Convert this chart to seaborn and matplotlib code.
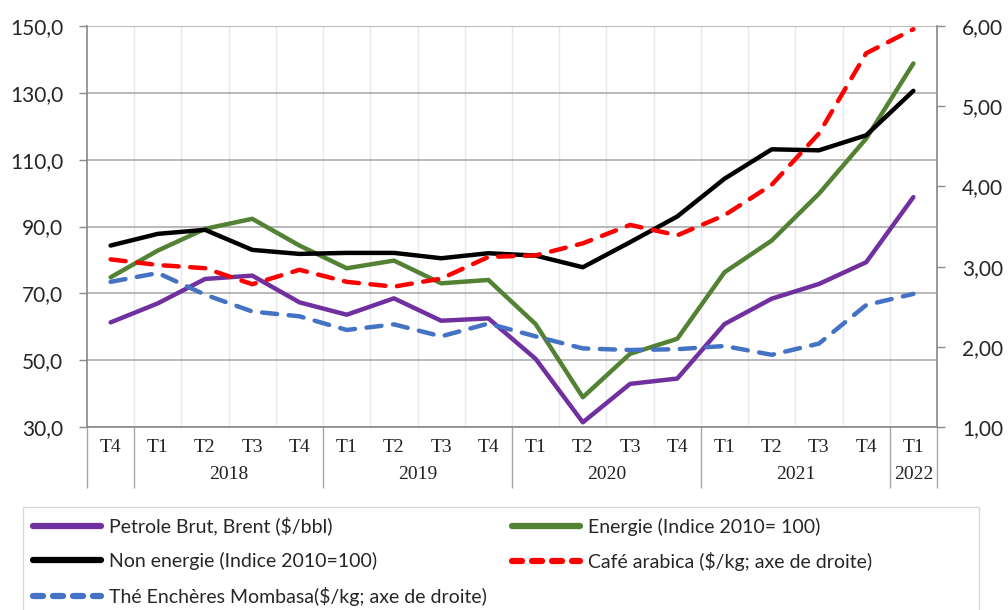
import numpy as np
import pandas as pd
import matplotlib
matplotlib.use("Agg")
import matplotlib.pyplot as plt
import matplotlib.transforms as mtransforms
from matplotlib.lines import Line2D
from matplotlib.patches import Rectangle
import seaborn as sns

quarters = ["T4", "T1", "T2", "T3", "T4", "T1", "T2", "T3", "T4",
            "T1", "T2", "T3", "T4", "T1", "T2", "T3", "T4", "T1"]
years = ["2018", "2019", "2020", "2021", "2022"]
year_spans = [(1, 4), (5, 8), (9, 12), (13, 16), (17, 17)]

brent = [61.3, 67.0, 74.3, 75.3, 67.3, 63.6, 68.5, 61.8, 62.5,
         50.4, 31.4, 42.9, 44.5, 60.8, 68.4, 72.8, 79.3, 98.8]
energie = [74.8, 82.8, 89.3, 92.3, 84.3, 77.5, 79.8, 73.0, 74.0,
           60.8, 38.9, 51.9, 56.4, 76.3, 85.8, 99.8, 116.3, 138.8]
non_energie = [84.3, 87.8, 89.0, 83.0, 81.8, 82.1, 82.1, 80.5, 82.0,
               81.3, 77.8, 85.3, 93.0, 104.3, 113.1, 112.8, 117.3, 130.6]
cafe = [3.09, 3.02, 2.98, 2.78, 2.96, 2.81, 2.75, 2.85, 3.12,
        3.14, 3.29, 3.52, 3.39, 3.64, 4.02, 4.66, 5.66, 5.96]
the = [2.81, 2.92, 2.65, 2.44, 2.38, 2.21, 2.28, 2.13, 2.29,
       2.13, 1.98, 1.96, 1.97, 2.01, 1.90, 2.04, 2.52, 2.66]

labels = {
    "brent": "Petrole Brut, Brent ($/bbl)",
    "energie": "Energie (Indice 2010= 100)",
    "non": "Non energie (Indice 2010=100)",
    "cafe": "Café arabica ($/kg; axe de droite)",
    "the": "Thé Enchères Mombasa($/kg; axe de droite)",
}

sns.set_theme(style="white")
plt.rcParams["font.family"] = ["Lato", "DejaVu Sans"]

idx = np.arange(len(quarters))
df = pd.DataFrame({"x": idx, "brent": brent, "energie": energie,
                   "non": non_energie, "cafe": cafe, "the": the})

fig = plt.figure(figsize=(10.08, 6.10), dpi=100)
ax = fig.add_axes([87 / 1008, 1 - 427 / 610, (937 - 87) / 1008, (427 - 26) / 610])
ax2 = ax.twinx()

LW = 3.2
sns.lineplot(data=df, x="x", y="brent", ax=ax, color="#7030A0", lw=LW, zorder=3)
sns.lineplot(data=df, x="x", y="energie", ax=ax, color="#548235", lw=LW, zorder=3)
sns.lineplot(data=df, x="x", y="non", ax=ax, color="#000000", lw=LW, zorder=3)
sns.lineplot(data=df, x="x", y="cafe", ax=ax2, color="#FF0000", lw=LW,
             linestyle=(0, (3.4, 2.6)), dash_capstyle="round", zorder=3)
sns.lineplot(data=df, x="x", y="the", ax=ax2, color="#4472C4", lw=LW,
             linestyle=(0, (3.4, 2.6)), dash_capstyle="round", zorder=3)

ax.set_xlim(-0.5, len(quarters) - 0.5)
ax.set_ylim(30, 150)
ax2.set_ylim(1, 6)
ax.set_yticks(np.arange(30, 151, 20))
ax.set_yticklabels([f"{v:.1f}".replace(".", ",") for v in np.arange(30, 151, 20)])
ax2.set_yticks(np.arange(1, 6.01, 1))
ax2.set_yticklabels([f"{v:.2f}".replace(".", ",") for v in np.arange(1, 6.01, 1)])

ax.set_xlabel("")
ax.set_ylabel("")
ax2.set_ylabel("")

gray = "#8C8C8C"
for a in (ax, ax2):
    for s in a.spines.values():
        s.set_visible(False)
ax.spines["left"].set_visible(True)
ax.spines["left"].set_color(gray)
ax.spines["bottom"].set_visible(True)
ax.spines["bottom"].set_color(gray)
ax2.spines["right"].set_visible(True)
ax2.spines["right"].set_color(gray)

ax.yaxis.grid(True, color="#A6A6A6", lw=1.1)
ax.set_xticks(idx)
ax.set_xticklabels(quarters, family=["Liberation Serif", "DejaVu Serif"], fontsize=14, color="#222222")
ax.set_xticks(idx[:-1] + 0.5, minor=True)
ax.xaxis.grid(True, which="minor", color="#E8E8E8", lw=1.0)
ax.tick_params(axis="x", which="major", length=0, pad=9)
ax.tick_params(axis="x", which="minor", length=20, color="#A6A6A6", width=1.0, direction="out")
ax.tick_params(axis="y", length=6, color=gray, width=1.0, labelsize=15, pad=11, left=True)
ax2.tick_params(axis="y", length=6, color=gray, width=1.0, labelsize=15, pad=12, right=True)
ax.set_axisbelow(True)

trans = mtransforms.blended_transform_factory(ax.transData, ax.transAxes)
bounds = [-0.5] + [s - 0.5 for s, _ in year_spans] + [len(quarters) - 0.5]
ax.vlines(bounds, -0.152, 0, transform=trans, colors="#A6A6A6", lw=1.0, clip_on=False)
for yr, (s, e) in zip(years, year_spans):
    ax.text((s + e) / 2, -0.118, yr, transform=trans, ha="center", va="center",
            family=["Liberation Serif", "DejaVu Serif"], fontsize=14, color="#222222")

# legend frame (extends past the bottom edge, like the reference)
fig.patches.append(Rectangle((23 / 1008, -0.05), (979 - 23) / 1008, 0.05 + 1 - 507 / 610,
                             transform=fig.transFigure, fill=False, edgecolor="#D9D9D9",
                             lw=1.0, zorder=0))

handles = [
    Line2D([], [], color="#7030A0", lw=4.5, solid_capstyle="round"),
    Line2D([], [], color="#000000", lw=4.5, solid_capstyle="round"),
    Line2D([], [], color="#4472C4", lw=4.5, linestyle=(0, (1.6, 1.6)), dash_capstyle="round"),
    Line2D([], [], color="#548235", lw=4.5, solid_capstyle="round"),
    Line2D([], [], color="#FF0000", lw=4.5, linestyle=(0, (1.6, 1.6)), dash_capstyle="round"),
]
hl = [labels["brent"], labels["non"], labels["the"], labels["energie"], labels["cafe"]]
leg = fig.legend(handles, hl, loc="upper left", bbox_to_anchor=(23 / 1008, 1 - 507 / 610),
                 ncol=2, fontsize=14, frameon=False,
                 handlelength=3.5, handletextpad=0.4, columnspacing=1.3,
                 labelspacing=0.85, borderpad=0.5, borderaxespad=0)

fig.savefig("out.png", dpi=100)
